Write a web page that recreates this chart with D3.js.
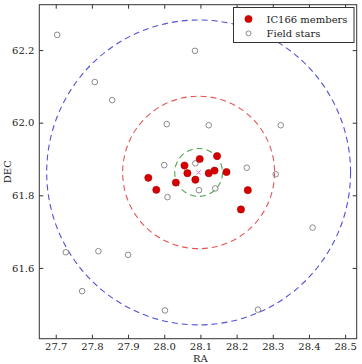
<!DOCTYPE html>
<html lang="en">
<head>
    <meta charset="UTF-8">
    <title>IC166 field</title>
    <script src="https://cdn.jsdelivr.net/npm/d3@7"></script>
    <style>
        body { margin: 0; background: #fff; }
        text { font-family: 'DejaVu Serif', serif; fill: #222; }
    </style>
</head>
<body>
    <div id="chart"></div>
    <script>
        const width = 362;
        const height = 364;
        const margin = { top: 4.7, right: 5.3, bottom: 25.3, left: 39.3 };

        // members of the cluster
        const memberRA  = [27.956, 27.978, 28.032, 28.056, 28.064, 28.086, 28.098, 28.123, 28.139, 28.146, 28.172, 28.231, 28.212];
        const memberDEC = [61.848, 61.815, 61.835, 61.882, 61.861, 61.843, 61.900, 61.861, 61.868, 61.908, 61.864, 61.814, 61.761];

        // field stars
        const fieldRA  = [27.704, 27.808, 27.856, 28.007, 28.000, 28.085, 28.123, 28.322, 28.086, 28.228, 28.308, 28.009, 28.096, 28.141, 27.728, 27.818, 27.900, 27.773, 28.002, 28.410, 28.259];
        const fieldDEC = [62.242, 62.112, 62.062, 61.996, 61.883, 62.198, 61.993, 61.993, 61.888, 61.876, 61.858, 61.795, 61.814, 61.819, 61.643, 61.646, 61.636, 61.536, 61.483, 61.711, 61.485];

        const centerRA = 28.095;
        const centerDEC = 61.863;
        const radii = [0.42, 0.21, 0.066];
        const radiusColors = ["#5050d8", "#e85454", "#4ca64c"];

        const xTicks = [27.7, 27.8, 27.9, 28.0, 28.1, 28.2, 28.3, 28.4, 28.5];
        const yTicks = [61.6, 61.8, 62.0, 62.2];

        const innerW = width - margin.left - margin.right;
        const innerH = height - margin.top - margin.bottom;

        const x = d3.scaleLinear().domain([27.6546, 28.532]).range([0, innerW]);
        const y = d3.scaleLinear().domain([61.405, 62.325]).range([innerH, 0]);

        const svg = d3.select("#chart").append("svg")
            .attr("width", width)
            .attr("height", height);

        const g = svg.append("g")
            .attr("transform", `translate(${margin.left},${margin.top})`);

        g.append("clipPath").attr("id", "clip")
            .append("rect").attr("width", innerW).attr("height", innerH);

        const plot = g.append("g").attr("clip-path", "url(#clip)");

        // dashed apertures
        radii.forEach((r, i) => {
            plot.append("ellipse")
                .attr("cx", x(centerRA))
                .attr("cy", y(centerDEC))
                .attr("rx", x(centerRA + r) - x(centerRA))
                .attr("ry", y(centerDEC) - y(centerDEC + r))
                .attr("fill", "none")
                .attr("stroke", radiusColors[i])
                .attr("stroke-width", 1.1)
                .attr("stroke-dasharray", "6,4");
        });

        // field stars
        plot.selectAll(".field")
            .data(fieldRA.map((ra, i) => [ra, fieldDEC[i]]))
            .enter().append("circle")
            .attr("class", "field")
            .attr("cx", d => x(d[0]))
            .attr("cy", d => y(d[1]))
            .attr("r", 2.8)
            .attr("fill", "none")
            .attr("stroke", "#8a8a8a")
            .attr("stroke-width", 1);

        // members
        plot.selectAll(".member")
            .data(memberRA.map((ra, i) => [ra, memberDEC[i]]))
            .enter().append("circle")
            .attr("class", "member")
            .attr("cx", d => x(d[0]))
            .attr("cy", d => y(d[1]))
            .attr("r", 3.6)
            .attr("fill", "#d90000")
            .attr("stroke", "#a00000")
            .attr("stroke-width", 0.6);

        // centre mark
        const cx = x(centerRA), cy = y(centerDEC);
        plot.append("path")
            .attr("d", `M${cx - 2.2},${cy - 2.2}L${cx + 2.2},${cy + 2.2}M${cx - 2.2},${cy + 2.2}L${cx + 2.2},${cy - 2.2}`)
            .attr("stroke", "#cc66dd")
            .attr("stroke-width", 0.9);

        // axes, ticks inward on all four sides
        const tickLen = 4;
        g.append("g")
            .attr("transform", `translate(0,${innerH})`)
            .call(d3.axisBottom(x).tickValues(xTicks).tickFormat(d3.format(".1f")).tickSizeInner(-tickLen).tickSizeOuter(0).tickPadding(4))
            .call(a => a.select(".domain").remove());
        g.append("g")
            .call(d3.axisTop(x).tickValues(xTicks).tickFormat("").tickSizeInner(-tickLen).tickSizeOuter(0))
            .call(a => a.select(".domain").remove());
        g.append("g")
            .call(d3.axisLeft(y).tickValues(yTicks).tickFormat(d3.format(".1f")).tickSizeInner(-tickLen).tickSizeOuter(0).tickPadding(5))
            .call(a => a.select(".domain").remove());
        g.append("g")
            .attr("transform", `translate(${innerW},0)`)
            .call(d3.axisRight(y).tickValues(yTicks).tickFormat("").tickSizeInner(-tickLen).tickSizeOuter(0))
            .call(a => a.select(".domain").remove());

        g.selectAll(".tick line").attr("stroke", "#333");
        g.selectAll(".tick text")
            .style("font-family", "'DejaVu Serif', serif")
            .style("font-size", "10px")
            .attr("fill", "#222");

        g.append("rect")
            .attr("width", innerW)
            .attr("height", innerH)
            .attr("fill", "none")
            .attr("stroke", "#333")
            .attr("stroke-width", 1);

        // axis labels
        svg.append("text")
            .attr("x", margin.left + x(28.1))
            .attr("y", 362)
            .attr("text-anchor", "middle")
            .style("font-size", "10px")
            .text("RA");
        svg.append("text")
            .attr("transform", `translate(11,${margin.top + innerH / 2}) rotate(-90)`)
            .attr("text-anchor", "middle")
            .style("font-size", "10px")
            .text("DEC");

        // legend
        const legend = svg.append("g").attr("transform", "translate(233.5,7.5)");
        legend.append("rect")
            .attr("width", 120.5)
            .attr("height", 35)
            .attr("fill", "#fff")
            .attr("stroke", "#333")
            .attr("stroke-width", 1);
        legend.append("circle")
            .attr("cx", 15).attr("cy", 11.5).attr("r", 3.6)
            .attr("fill", "#d90000").attr("stroke", "#a00000").attr("stroke-width", 0.6);
        legend.append("text")
            .attr("x", 33).attr("y", 15)
            .style("font-size", "10px")
            .text("IC166 members");
        legend.append("circle")
            .attr("cx", 15).attr("cy", 25.8).attr("r", 2.5)
            .attr("fill", "none").attr("stroke", "#8a8a8a").attr("stroke-width", 1);
        legend.append("text")
            .attr("x", 33).attr("y", 29.3)
            .style("font-size", "10px")
            .text("Field stars");
    </script>
</body>
</html>
